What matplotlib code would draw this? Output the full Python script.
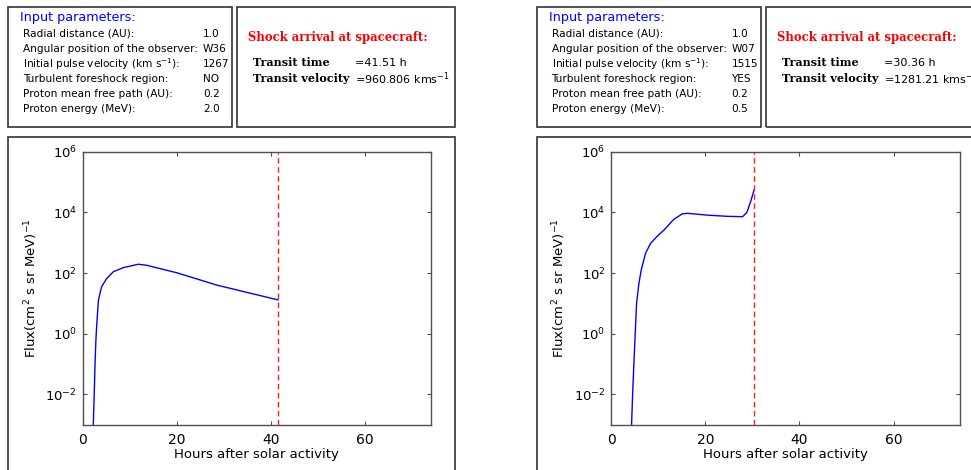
import matplotlib
matplotlib.use('Agg')
import matplotlib.pyplot as plt
from matplotlib.patches import Rectangle
from matplotlib.ticker import NullLocator

plt.rcParams['font.family'] = 'DejaVu Sans'
plt.rcParams['mathtext.default'] = 'regular'

W, H = 971, 470

# input parameters shown in the top-left box of each panel
param_names = ['Radial distance (AU):',
               'Angular position of the observer:',
               'Initial pulse velocity (km s$^{-1}$):',
               'Turbulent foreshock region:',
               'Proton mean free path (AU):',
               'Proton energy (MeV):']
params_a = ['1.0', 'W36', '1267', 'NO', '0.2', '2.0']
params_b = ['1.0', 'W07', '1515', 'YES', '0.2', '0.5']

# shock arrival
transit_time = [41.51, 30.36]
transit_vel = ['960.806', '1281.21']

# flux profiles (hours after solar activity, flux)
hours_a = [2.25, 2.45, 2.62, 2.8, 3.0, 3.35, 4.0, 5.1, 6.5, 8.6, 11.8, 13.6, 20.0, 28.5, 41.51]
flux_a = [1e-3, 1e-2, 0.1, 0.6, 2.2, 13, 35, 66, 110, 150, 195, 180, 102, 40, 13]

hours_b = [4.33, 4.55, 4.82, 5.1, 5.39, 5.89, 6.38, 7.3, 8.37, 9.8, 11.2, 13.3,
           15.1, 16.2, 20.4, 24.7, 27.9, 28.8, 29.6, 30.36]
flux_b = [1e-3, 1e-2, 0.1, 1.0, 10, 46, 126, 450, 950, 1650, 2600, 5900,
          8900, 9300, 8100, 7400, 7200, 9800, 22000, 55000]

x_ticks = [0, 20, 40, 60]
y_ticks = [1e-2, 1, 1e2, 1e4, 1e6]

fig = plt.figure(figsize=(W / 100, H / 100), dpi=100)


def fx(x):
    return x / W


def fy(y):
    return 1 - y / H


def box(x0, y0, x1, y1):
    fig.add_artist(Rectangle((fx(x0), fy(y1)), fx(x1) - fx(x0), fy(y0) - fy(y1),
                             transform=fig.transFigure, fill=False,
                             ec='#333333', lw=1.2))


def panel(dx, params, t, v, hours, flux):
    box(dx + 8, 7, dx + 232, 127)
    box(dx + 237, 7, dx + 455, 127)
    box(dx + 8, 137, dx + 455, 480)

    fig.text(fx(dx + 20), fy(18), 'Input parameters:', color='#0000ff',
             fontsize=9.2, va='center')
    for i, (name, val) in enumerate(zip(param_names, params)):
        y = 34 + 15 * i
        fig.text(fx(dx + 23), fy(y), name, fontsize=7.6, va='center')
        fig.text(fx(dx + 203), fy(y), val, fontsize=7.6, va='center')

    fig.text(fx(dx + 248), fy(38), 'Shock arrival at spacecraft:', color='red',
             family='DejaVu Serif', weight='bold', fontsize=8.4, va='center')
    fig.text(fx(dx + 253), fy(63), 'Transit time', family='DejaVu Serif',
             weight='bold', fontsize=8, va='center')
    fig.text(fx(dx + 355), fy(63), '=%.2f h' % t, fontsize=8, va='center')
    fig.text(fx(dx + 253), fy(79), 'Transit velocity', family='DejaVu Serif',
             weight='bold', fontsize=8, va='center')
    fig.text(fx(dx + 355), fy(79), '=' + v + ' kms$^{-1}$', fontsize=8, va='center')

    ax = fig.add_axes([fx(dx + 82.7), fy(424.7), (431 - 82.7) / W, (424.7 - 151.7) / H])
    ax.plot(hours, flux, color='#0000ff', lw=1.0)
    ax.axvline(t, color='#ff2020', lw=1.0, dashes=(4, 2.5))
    ax.set_yscale('log')
    ax.set_xlim(0, 74)
    ax.set_ylim(1e-3, 1e6)
    ax.set_xticks(x_ticks)
    ax.set_yticks(y_ticks)
    ax.yaxis.set_minor_locator(NullLocator())
    ax.tick_params(direction='in', length=3, top=True, right=True,
                   color='#505050', labelsize=9.5)
    ax.tick_params(axis='x', pad=6, labelsize=10)
    ax.tick_params(axis='y', pad=4)
    for s in ax.spines.values():
        s.set_color('#505050')
        s.set_linewidth(1.0)
    ax.set_xlabel('Hours after solar activity', fontsize=9.5, labelpad=1)
    ax.set_ylabel('Flux(cm$^2$ s sr MeV)$^{-1}$', fontsize=9.5, labelpad=4)


panel(0, params_a, transit_time[0], transit_vel[0], hours_a, flux_a)
panel(528.5, params_b, transit_time[1], transit_vel[1], hours_b, flux_b)

fig.savefig('out.png', dpi=100)
